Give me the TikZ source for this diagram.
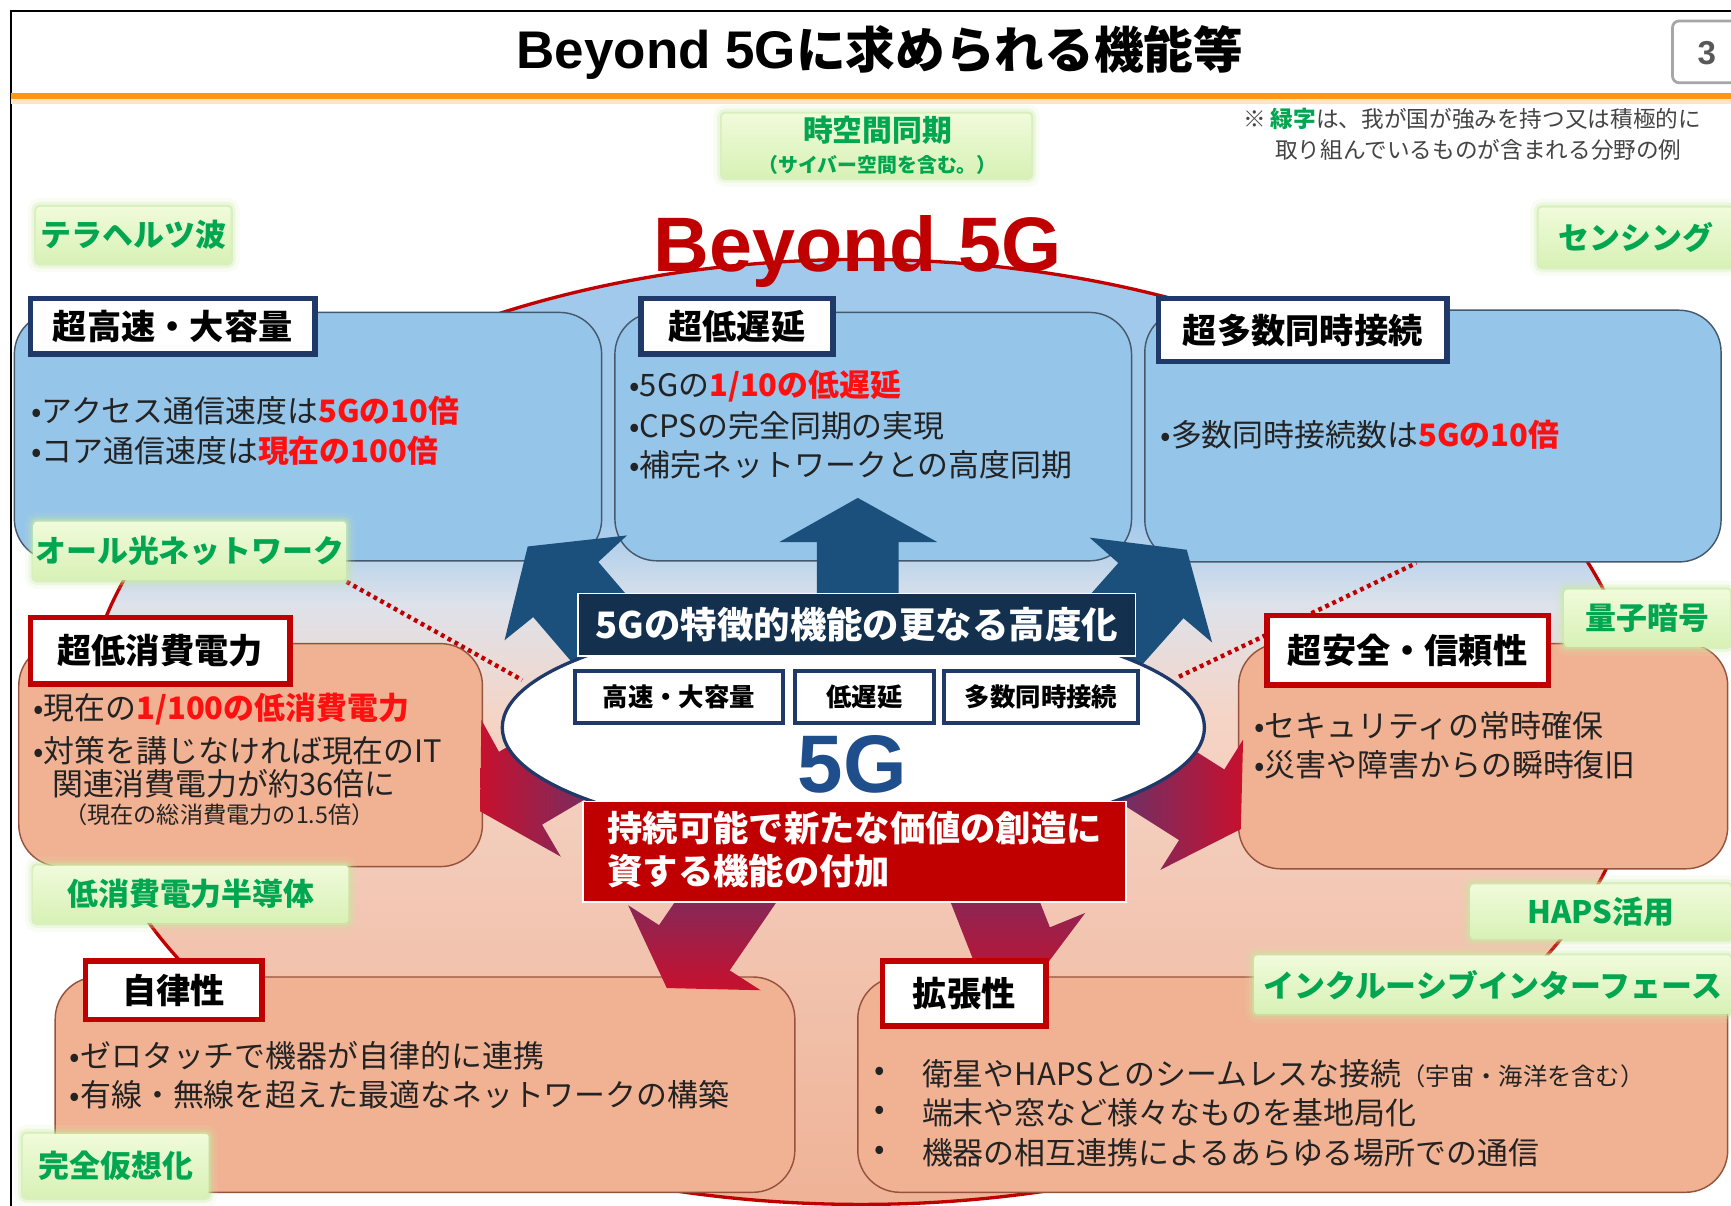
\documentclass[tikz,border=0pt]{standalone}
\usepackage{fontspec}
\setmainfont{Noto Sans CJK JP}
\newfontfamily\lat{Liberation Sans}
\usetikzlibrary{shapes.geometric}
\newcommand\fsz[1]{\fontsize{#1}{#1}\selectfont}
\definecolor{bxblue}{RGB}{150,197,234}
\definecolor{bxborder}{RGB}{70,88,108}
\definecolor{tabnavy}{RGB}{31,58,104}
\definecolor{salmon}{RGB}{241,178,148}
\definecolor{salborder}{RGB}{150,82,60}
\definecolor{dred}{RGB}{192,0,0}
\definecolor{bred}{RGB}{255,16,16}
\definecolor{arrblue}{RGB}{27,80,125}
\definecolor{labnavy}{RGB}{19,48,79}
\definecolor{gtext}{RGB}{0,166,80}
\definecolor{gtop}{RGB}{240,251,218}
\definecolor{gbot}{RGB}{216,241,182}
\definecolor{gglow}{RGB}{200,235,160}
\definecolor{elltop}{RGB}{160,201,236}
\definecolor{ellmid}{RGB}{222,226,234}
\definecolor{ellpink}{RGB}{245,212,198}
\definecolor{ellbot}{RGB}{239,178,150}
\definecolor{fiveg}{RGB}{31,78,140}
\definecolor{orangeline}{RGB}{255,150,20}
\definecolor{txt}{RGB}{35,35,35}
\definecolor{ared}{RGB}{200,16,46}
\definecolor{anavy}{RGB}{50,70,140}
\newcommand\rb[1]{{\color{bred}\bfseries #1}}
\tikzset{
  bluebox/.style={draw=bxborder, line width=1.3pt, fill=bxblue, rounded corners=38pt, inner sep=0pt},
  salbox/.style={draw=salborder, line width=1.3pt, fill=salmon, rounded corners=38pt, inner sep=0pt},
  navytab/.style={draw=tabnavy, line width=5pt, fill=white, inner sep=0pt, font=\bfseries\fsz{31}, text=black},
  redtab/.style={draw=dred, line width=5pt, fill=white, inner sep=0pt, font=\bfseries\fsz{31}, text=black},
  body/.style={anchor=west, inner sep=0pt, font=\fsz{28}, text=txt},
  smallbox/.style={draw=tabnavy, line width=4pt, fill=white, inner sep=0pt, minimum height=47pt, font=\bfseries\fsz{23}, text=black},
  glbl/.style={top color=gtop, bottom color=gbot, inner sep=0pt, rounded corners=3pt, text=gtext, font=\bfseries\fsz{28},
    preaction={draw=gglow, line width=16pt, draw opacity=0.12},
    preaction={draw=gglow, line width=9pt, draw opacity=0.25},
    preaction={draw=gglow, line width=4pt, draw opacity=0.5}},
  reddots/.style={draw=dred, line width=4pt, dash pattern=on 3.5pt off 3.5pt},
}
\begin{document}
\begin{tikzpicture}[x=1pt,y=-1pt]
\useasboundingbox (0,0) rectangle (1568,1092);
\fill[white] (0,0) rectangle (1568,1092);

% big Beyond 5G ellipse background
\begin{scope}
\clip (780,663) ellipse [x radius=705, y radius=428];
\fill[elltop] (60,230) rectangle (1500,471);
\shade[top color=elltop, bottom color=ellmid] (60,470) rectangle (1500,548);
\shade[top color=ellmid, bottom color=ellpink] (60,547) rectangle (1500,650);
\shade[top color=ellpink, bottom color=ellbot] (60,649) rectangle (1500,1095);
\end{scope}
\node[ellipse, draw=dred, line width=3pt, minimum width=1410pt, minimum height=856pt, inner sep=0pt] (bigell) at (780,663) {};

% frame, title
\draw[black, line width=2pt] (10,1095) -- (10,10) -- (1570,10);
\fill[orangeline!25] (10,89) rectangle (1568,94);
\draw[orangeline, line width=5pt] (10,87) -- (1568,87);
\node[anchor=base, inner sep=0pt, font=\bfseries\fsz{45}] (title) at (797,62) {{\lat\fsz{48}Beyond 5G}に求められる機能等};
\node[draw=gray!70, line width=2.5pt, rounded corners=6pt, minimum width=62pt, minimum height=56pt, inner sep=0pt] (pg) at (1546,47) {};
\node[font=\lat\bfseries\fsz{30}, text=gray!70!black] (pgn) at (1546,48) {3};
\node[anchor=west, inner sep=0pt, font=\fsz{20.5}, text=txt!85] (note1) at (1126,108) {※ {\color{gtext}\bfseries 緑字}は、我が国が強みを持つ又は積極的に};
\node[anchor=west, inner sep=0pt, font=\fsz{20.5}, text=txt!85] (note2) at (1155,136) {取り組んでいるものが含まれる分野の例};

% boxes
\node[bluebox, minimum width=532pt, minimum height=225pt] (bb1) at (279,395.5) {};
\node[bluebox, minimum width=468pt, minimum height=225pt] (bb2) at (791,395.5) {};
\node[bluebox, minimum width=522pt, minimum height=228pt] (bb3) at (1298,395) {};
\node[salbox, minimum width=420pt, minimum height=202pt] (sb1) at (227,684) {};
\node[salbox, minimum width=443pt, minimum height=204pt] (sb2) at (1343.5,685) {};
\node[salbox, minimum width=670pt, minimum height=195pt] (sb3) at (385,982.5) {};
\node[salbox, minimum width=788pt, minimum height=195pt] (sb4) at (1171,982.5) {};

% dotted links
\coordinate (dl) at (473,616);
\coordinate (dr1) at (1068,613);
\coordinate (dr2) at (1283,510);
\coordinate (g4c) at (314,527);
\draw[reddots] (g4c) -- (dl);
\draw[reddots] (dr1) -- (dr2);

% blue arrows
\fill[arrblue] (740,600) -- (740,491) -- (706,491) -- (777,451) -- (849,491) -- (814,491) -- (814,600) -- cycle;
\fill[arrblue] (561,650) -- (483,559) -- (457,580) -- (478,495) -- (568,485) -- (542,509) -- (620,600) -- cycle;
\fill[arrblue] (992,650) -- (1072,560) -- (1098,582) -- (1075,498) -- (987,487) -- (1013,510) -- (933,600) -- cycle;
% red gradient arrows
\shade[left color=ared, right color=anavy] (581,605) -- (452,681) -- (436,652) -- (435,735) -- (508,776) -- (491,747) -- (620,671) -- cycle;
\shade[left color=anavy, right color=ared] (983,617) -- (1109,697) -- (1126,670) -- (1124,751) -- (1051,788) -- (1068,761) -- (942,681) -- cycle;
\shade[top color=anavy, bottom color=ared] (682,714) -- (597,838) -- (569,820) -- (604,895) -- (689,897) -- (661,879) -- (746,755) -- cycle;
\shade[top color=anavy, bottom color=ared] (826,728) -- (881,868) -- (849,881) -- (932,895) -- (983,827) -- (951,840) -- (896,700) -- cycle;

% 5G core
\node[ellipse, draw=tabnavy, line width=3pt, fill=white, minimum width=636pt, minimum height=200pt, inner sep=0pt] (e5g) at (773,659) {};
\node[fill=labnavy, draw=white, line width=1.5pt, minimum width=505pt, minimum height=57pt, inner sep=0pt, text=white, font=\bfseries\fsz{33}] (lab1) at (776,566) {5Gの特徴的機能の更なる高度化};
\node[smallbox, minimum width=188pt] (sm1) at (615,631.5) {高速・大容量};
\node[smallbox, minimum width=126pt] (sm2) at (783,631.5) {低遅延};
\node[smallbox, minimum width=176pt] (sm3) at (943,631.5) {多数同時接続};
\node[anchor=base, inner sep=0pt, text=fiveg, font=\lat\bfseries\fsz{74}] (t5g) at (772,718) {5G};
\node[fill=dred, draw=white, line width=1.5pt, minimum width=492pt, minimum height=91pt, inner sep=0pt] (lab2) at (774,771.5) {};
\node[anchor=west, inner sep=0pt, text=white, font=\bfseries\fsz{32}] (lab2a) at (550,750) {持続可能で新たな価値の創造に};
\node[anchor=west, inner sep=0pt, text=white, font=\bfseries\fsz{32}] (lab2b) at (550,789) {資する機能の付加};

% tabs
\node[navytab, minimum width=258pt, minimum height=50pt] (t1) at (156.5,295.5) {超高速・大容量};
\node[navytab, minimum width=174pt, minimum height=50pt] (t2) at (667.5,295.5) {超低遅延};
\node[navytab, minimum width=261pt, minimum height=57pt] (t3) at (1180,299) {超多数同時接続};
\node[redtab, minimum width=235pt, minimum height=60pt] (s1) at (145,589.5) {超低消費電力};
\node[redtab, minimum width=255pt, minimum height=63pt] (s2) at (1275,589) {超安全・信頼性};
\node[redtab, minimum width=160pt, minimum height=53pt] (s3) at (157.5,897) {自律性};
\node[redtab, minimum width=148pt, minimum height=59pt] (s4) at (873.5,900) {拡張性};

% body texts
\node[body] (l1) at (28,372) {•アクセス通信速度は\rb{5Gの10倍}};
\node[body] (l2) at (28,408) {•コア通信速度は\rb{現在の100倍}};
\node[body] (m1) at (570,350) {•5Gの\rb{1/10の低遅延}};
\node[body] (m2) at (570,386) {•CPSの完全同期の実現};
\node[body] (m3) at (570,421) {•補完ネットワークとの高度同期};
\node[body] (r1) at (1051,394) {•多数同時接続数は\rb{5Gの10倍}};
\node[body] (sl1) at (30,642) {•現在の\rb{1/100の低消費電力}};
\node[body] (sl2) at (30,680) {•対策を講じなければ現在のIT};
\node[body] (sl3) at (47,710) {関連消費電力が約36倍に};
\node[body, font=\fsz{21}] (sl4) at (58,738) {（現在の総消費電力の1.5倍）};
\node[body] (sr1) at (1136,657) {•セキュリティの常時確保};
\node[body] (sr2) at (1136,693) {•災害や障害からの瞬時復旧};
\node[body] (bl1) at (63,956) {•ゼロタッチで機器が自律的に連携};
\node[body] (bl2) at (63,992) {•有線・無線を超えた最適なネットワークの構築};
\node[body] (brd1) at (792,973) {•};
\node[body] (brd2) at (792,1008) {•};
\node[body] (brd3) at (792,1044) {•};
\node[body] (br1) at (835,973) {衛星やHAPSとのシームレスな接続{\fsz{22}（宇宙・海洋を含む）}};
\node[body] (br2) at (835,1008) {端末や窓など様々なものを基地局化};
\node[body] (br3) at (835,1044) {機器の相互連携によるあらゆる場所での通信};

% green labels
\node[glbl, minimum width=280pt, minimum height=58pt] (g1) at (794,132) {};
\node[text=gtext, font=\bfseries\fsz{27}, inner sep=0pt] (g1a) at (795,118) {時空間同期};
\node[text=gtext, font=\bfseries\fsz{18}, inner sep=0pt] (g1b) at (795,149) {（サイバー空間を含む。）};
\node[glbl, minimum width=176pt, minimum height=51pt] (g2) at (121,213) {テラヘルツ波};
\node[glbl, minimum width=176pt, minimum height=54pt] (g3) at (1482,215) {センシング};
\node[glbl, minimum width=283pt, minimum height=53pt] (g4) at (172,499) {オール光ネットワーク};
\node[glbl, minimum width=150pt, minimum height=52pt] (g5) at (1492,560) {量子暗号};
\node[glbl, minimum width=285pt, minimum height=52pt] (g6) at (173,810) {低消費電力半導体};
\node[glbl, minimum width=236pt, minimum height=50pt] (g7) at (1450,826) {HAPS活用};
\node[glbl, minimum width=432pt, minimum height=53pt] (g8) at (1352,892) {インクルーシブインターフェース};
\node[glbl, minimum width=168pt, minimum height=58pt] (g9) at (105,1056) {完全仮想化};

% Beyond 5G heading
\node[anchor=base, inner sep=0pt, text=dred, font=\lat\bfseries\fsz{70}] (b5g) at (777,246) {Beyond 5G};
\end{tikzpicture}
\end{document}
